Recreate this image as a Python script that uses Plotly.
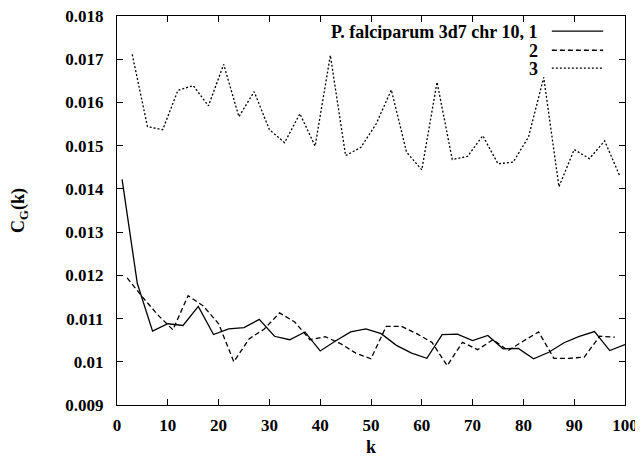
import plotly.graph_objects as go

k1 = list(range(1, 101, 3))
s1 = [0.01422, 0.01181, 0.01071, 0.01088, 0.01084, 0.01128, 0.01063, 0.01076, 0.01079,
      0.01098, 0.01059, 0.01051, 0.01069, 0.01025, 0.01048, 0.01069, 0.01076, 0.01065,
      0.01038, 0.01020, 0.01008, 0.01063, 0.01064, 0.01049, 0.01061, 0.01030, 0.01031,
      0.01007, 0.01022, 0.01044, 0.01059, 0.01070, 0.01026, 0.01040]

k2 = list(range(2, 99, 3))
s2 = [0.01194, 0.01150, 0.01109, 0.01074, 0.01153, 0.01129, 0.01088, 0.01000, 0.01053,
      0.01076, 0.01113, 0.01092, 0.01051, 0.01058, 0.01042, 0.01020, 0.01007, 0.01082,
      0.01082, 0.01065, 0.01045, 0.00991, 0.01045, 0.01028, 0.01051, 0.01026, 0.01048,
      0.01069, 0.01008, 0.01008, 0.01011, 0.01059, 0.01057]

k3 = list(range(3, 100, 3))
s3 = [0.01711, 0.01544, 0.01537, 0.01628, 0.01639, 0.01592, 0.01688, 0.01567, 0.01625,
      0.01537, 0.01507, 0.01574, 0.01499, 0.01709, 0.01477, 0.01496, 0.01550, 0.01629,
      0.01485, 0.01444, 0.01647, 0.01468, 0.01475, 0.01523, 0.01458, 0.01462, 0.01520,
      0.01658, 0.01405, 0.01491, 0.01470, 0.01511, 0.01429]

legend_names = ["P. falciparum 3d7 chr 10, 1", "2", "3"]
dashes = ["solid", "5px,3px", "2px,2px"]
x_ticks = [0, 10, 20, 30, 40, 50, 60, 70, 80, 90, 100]
y_ticks = [0.009, 0.010, 0.011, 0.012, 0.013, 0.014, 0.015, 0.016, 0.017, 0.018]
y_labels = ["0.009", "0.01", "0.011", "0.012", "0.013", "0.014", "0.015", "0.016", "0.017", "0.018"]

FONT = "Liberation Serif, Times New Roman, Times, serif"
FS = 18
TFS = 17
fig = go.Figure()
for kx, sy, name, d in zip([k1, k2, k3], [s1, s2, s3], legend_names, dashes):
    fig.add_trace(go.Scatter(x=kx, y=sy, mode="lines", name=name, showlegend=False,
                             line=dict(color="black", width=1.3, dash=d)))

# gnuplot-style legend: text right-aligned, sample line to the right
leg_y = [0.961, 0.912, 0.866]
for name, d, yy in zip(legend_names, dashes, leg_y):
    fig.add_annotation(xref="paper", yref="paper", x=0.832, y=yy, text="<b>%s</b>" % name,
                       showarrow=False, xanchor="right", yanchor="middle", height=17,
                       font=dict(family=FONT, size=FS, color="black"))
    fig.add_shape(type="line", xref="paper", yref="paper", x0=0.856, x1=0.957, y0=yy, y1=yy,
                  line=dict(color="black", width=1.3, dash=d))

axis_common = dict(showline=True, linecolor="black", linewidth=1.3, mirror="ticks",
                   ticks="inside", ticklen=6, tickcolor="black", tickwidth=1,
                   showgrid=False, zeroline=False, automargin=False, ticklabeloverflow="allow",
                   tickfont=dict(family=FONT, size=TFS, color="black"))

fig.update_xaxes(range=[0, 100], tickvals=x_ticks, ticktext=["<b>%d</b>" % v for v in x_ticks],
                 title=dict(text="<b>k</b>", font=dict(family=FONT, size=FS, color="black"), standoff=17),
                 ticklabelstandoff=4, **axis_common)
fig.update_yaxes(range=[0.009, 0.018], tickvals=y_ticks, ticktext=["<b>%s</b>" % v for v in y_labels],
                 title=dict(text="<b>C<sub>G</sub>(k)</b>", font=dict(family=FONT, size=FS, color="black"), standoff=35),
                 ticklabelstandoff=9, **axis_common)

# page body has an 8px margin, so the figure is sized to fill the rest of the 643x457 window
fig.update_layout(width=635, height=449, plot_bgcolor="white", paper_bgcolor="white",
                  margin=dict(l=109, r=18, t=8, b=52), showlegend=False)
fig.write_html("out.html")
